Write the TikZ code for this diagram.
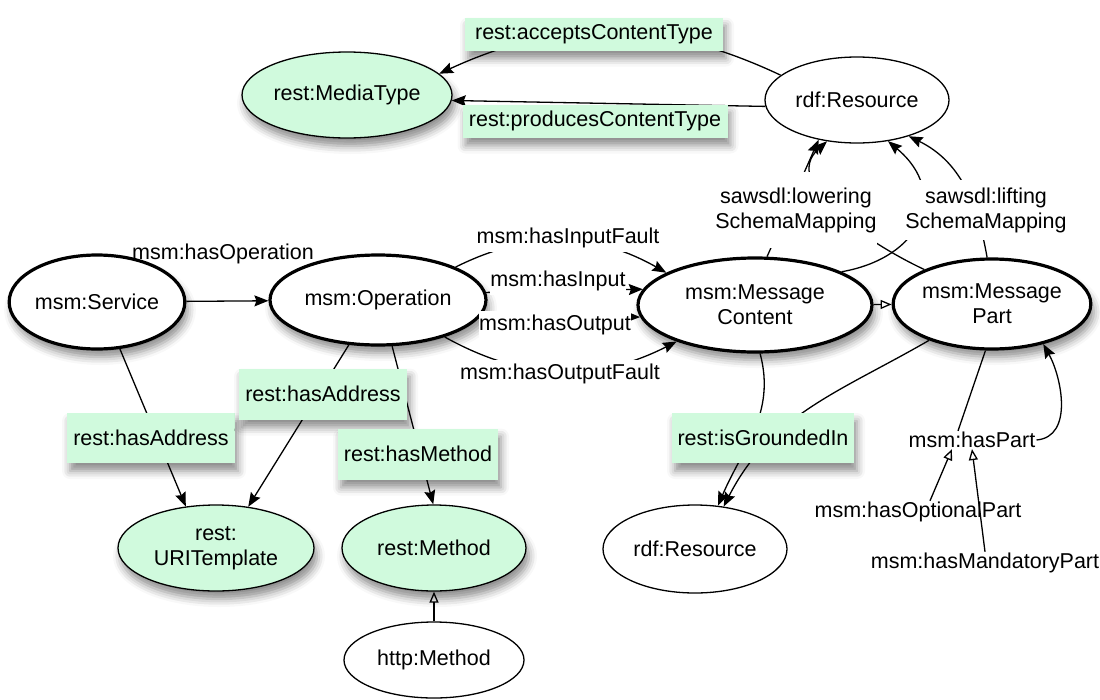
\documentclass[tikz,border=0pt]{standalone}
\usepackage{fontspec}
\setmainfont{Liberation Sans}
\usetikzlibrary{shapes.geometric,arrows.meta,shadows.blur}
\definecolor{restgreen}{RGB}{208,250,221}
\tikzset{
  every node/.style={font=\fontsize{21.5}{25}\selectfont},
  esize/.style 2 args={minimum width=#1, minimum height=#2, inner sep=0pt},
  softshadow/.style={blur shadow={shadow xshift=3pt, shadow yshift=-8pt, shadow blur radius=8pt, shadow opacity=45}},
  msmclass/.style={ellipse, draw, line width=3.2pt, fill=white, softshadow},
  restclass/.style={ellipse, draw, line width=1.3pt, fill=restgreen, softshadow},
  otherclass/.style={ellipse, draw, line width=1.3pt, fill=white},
  restprop/.style={rectangle, fill=restgreen, inner sep=0pt, softshadow},
  msmprop/.style={fill=white, inner xsep=0pt, inner ysep=4pt},
  plainprop/.style={inner sep=1pt},
  plainlink/.style={line width=1.3pt},
  link/.style={line width=1.3pt, -{Stealth[length=14pt,width=11pt,inset=2pt]}},
  subclass/.style={line width=1.3pt, -{Triangle[open,length=11pt,width=9pt]}},
}
\begin{document}
\begin{tikzpicture}[x=1pt,y=-1pt]
\useasboundingbox (0,0) rectangle (1100,699);
\node[restclass, esize={210}{86}] (mediatype) at (347,95) {rest:MediaType};
\node[otherclass, esize={184}{86}] (rdftop) at (857,100) {rdf:Resource};
\node[msmclass, esize={174}{94}] (service) at (97,302) {msm:Service};
\node[msmclass, esize={216}{90}] (operation) at (378,300) {msm:Operation};
\node[msmclass, esize={234}{94}, align=center] (content) at (755,305) {msm:Message\\Content};
\node[msmclass, esize={196}{90}, align=center] (part) at (992,304) {msm:Message\\Part};
\node[restclass, esize={196}{86}, align=center] (uritemplate) at (216,548) {rest:\\URITemplate};
\node[restclass, esize={184}{86}] (restmethod) at (434,548) {rest:Method};
\node[otherclass, esize={180}{76}] (httpmethod) at (434,660) {http:Method};
\node[otherclass, esize={184}{88}] (rdfbottom) at (695,549) {rdf:Resource};
\node[plainprop] (haspart) at (972,440) {msm:hasPart};
\node[plainprop] (optional) at (918,512) {msm:hasOptionalPart};
\node[plainprop] (mandatory) at (985,563) {msm:hasMandatoryPart};

\draw[link] (rdftop.162) to[bend right=25] (mediatype.13);
\draw[link] (rdftop.184) -- (mediatype.357);
\draw[link] (service) -- (operation);
\draw[link] (service.296) -- (uritemplate.126);
\draw[link] (operation.237) -- (uritemplate.52);
\draw[link] (operation.287) -- (restmethod.91);
\draw[subclass] (httpmethod) -- (restmethod);
\draw[link] (operation.23) to[bend left=28] (content.160);
\draw[link] (operation.4) -- (content.172);
\draw[link] (operation.352) -- (content.186);
\draw[link] (operation.331) to[bend right=28] (content.205);
\draw[subclass] (content) -- (part);
\draw[link] (content.76) -- (rdftop.226);
\draw[link] (part.153) to[out=155,in=-138] (rdftop.234);
\draw[link] (content.21) to[out=10,in=-40,looseness=1.5] (rdftop.307);
\draw[link] (part.96) to[out=100,in=-26] (rdftop.325);
\draw[link] (content.276) to[out=-75,in=67] (rdfbottom.62);
\draw[link] (part.210) to[out=210,in=63] (rdfbottom.56);
\draw[plainlink] (part.262) -- ([xshift=-14pt]haspart.north);
\draw[link] (haspart.east) to[out=5,in=-61] (part.322);
\draw[subclass] ([xshift=12pt]optional.north) -- ([xshift=-20pt]haspart.south);
\draw[subclass] (mandatory.north) -- (haspart.south);

\node[restprop, esize={258}{33}] (accepts) at (594,34) {rest:acceptsContentType};
\node[restprop, esize={265}{33}] (produces) at (595,121) {rest:producesContentType};
\node[restprop, esize={168}{50}] (serviceaddress) at (151,438) {rest:hasAddress};
\node[restprop, esize={168}{51}] (operationaddress) at (323,394) {rest:hasAddress};
\node[restprop, esize={160}{51}] (hasmethod) at (418,454) {rest:hasMethod};
\node[restprop, esize={182}{50}] (grounded) at (763,438) {rest:isGroundedIn};
\node[plainprop] (hasoperation) at (223,254) {msm:hasOperation};
\node[msmprop] (inputfault) at (568,238) {msm:hasInputFault};
\node[msmprop] (input) at (558,281) {msm:hasInput};
\node[msmprop] (output) at (555,325) {msm:hasOutput};
\node[msmprop] (outputfault) at (560,374) {msm:hasOutputFault};
\node[msmprop, align=center, minimum width=160pt, minimum height=76pt] (lowering) at (796,210) {sawsdl:lowering\\SchemaMapping};
\node[msmprop, align=center, minimum width=160pt, minimum height=60pt] (lifting) at (986,210) {sawsdl:lifting\\SchemaMapping};
\end{tikzpicture}
\end{document}
